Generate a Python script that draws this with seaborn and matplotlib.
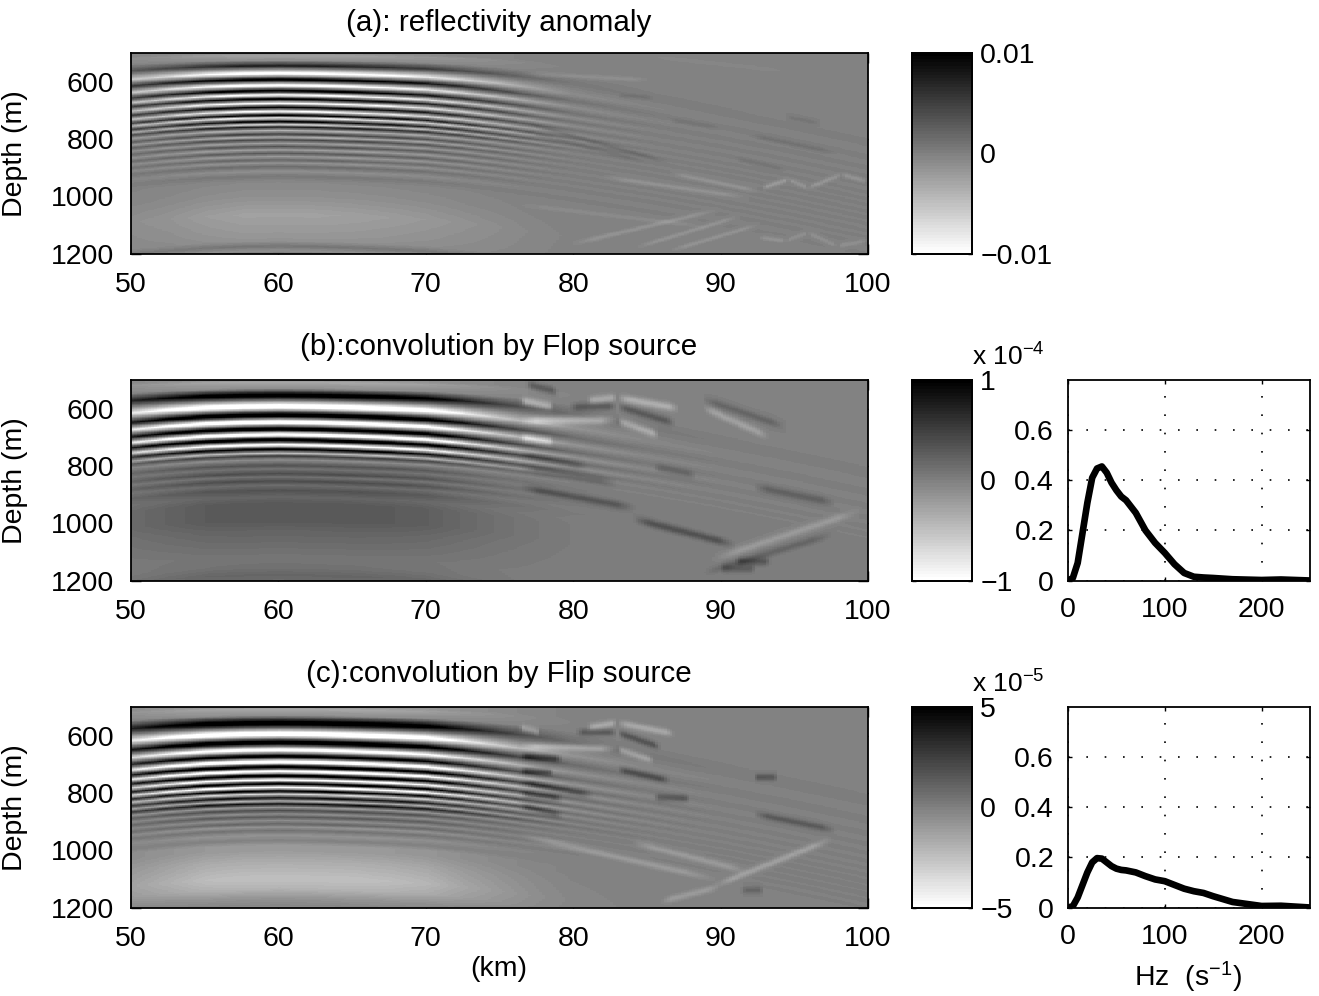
import numpy as np
import pandas as pd
import matplotlib
matplotlib.use("Agg")
import matplotlib.pyplot as plt
import seaborn as sns

W, H = 1319, 996

# trace at 60 km, in fractions of the colour limit
depth_a = [500, 507, 525, 544, 571, 592, 612, 631, 646, 660, 675, 689, 703, 717, 726, 739, 749, 758, 770, 783, 793, 803, 815, 826, 838, 850, 861, 873, 884, 896, 913, 930, 950, 1000, 1064, 1134, 1157, 1175, 1192, 1200]
value_a = [-.1, -.25, -.1, .75, -1.2, 1.2, -1.2, 1.2, -1.1, 1.1, -1.1, 1.1, -1, 1.1, -.9, 1, -.6, .8, -.4, .5, -.35, .45, -.25, .35, -.25, .3, -.2, .2, -.15, .15, -.12, .06, -.06, -.12, -.26, -.18, -.14, .08, -.12, .05]
depth_b = [500, 507, 530, 553, 592, 622, 646, 671, 690, 708, 726, 741, 755, 765, 778, 798, 810, 827, 838, 853, 867, 885, 908, 931, 955, 990, 1024, 1071, 1117, 1152, 1181, 1200]
value_b = [-.15, -.3, -.1, 1.3, -1.5, 1.5, -1.5, 1.5, -1.5, 1.5, -1.2, 1.1, -.5, .5, -.1, .35, .1, .4, .1, .4, .15, .35, .2, .3, .3, .3, .22, .15, .08, .1, .2, .15]
depth_c = [500, 507, 530, 556, 594, 623, 649, 672, 691, 709, 724, 740, 754, 768, 780, 793, 804, 817, 828, 838, 850, 861, 873, 884, 896, 908, 919, 931, 948, 966, 983, 1000, 1041, 1099, 1134, 1169, 1192, 1200]
value_c = [-.2, -.3, -.1, 1.4, -1.5, 1.5, -1.3, 1.3, -1.5, 1.5, -1.4, 1.4, -1.2, 1.3, -1.2, 1.1, -.7, .9, -.4, .9, -.2, .4, -.1, .3, -.1, .2, -.15, .1, -.15, 0, -.2, -.2, -.35, -.5, -.4, -.15, -.05, -.1]

# how far the stripes sink and fade away from 60 km
km_nodes = [50, 52.5, 55, 57.5, 60, 62.5, 65, 67.5, 70, 72.5, 75, 77.5, 80, 85, 90, 95, 100]
sink = [28, 16, 7, 2, 0, 2, 6, 11, 18, 30, 45, 62, 80, 120, 165, 215, 270]
sink_depth = [500, 560, 640, 720, 1200]
sink_weight = [.3, .6, .9, 1, 1]
gain_a = [.45, .6, .85, 1, 1, 1, .95, .85, .72, .55, .38, .2, .08, .03, .02, .01, .01]
gain_b = [.55, .75, .95, 1, 1, 1, 1, .95, .85, .6, .38, .22, .1, .04, .02, .01, .01]
gain_c = [.55, .75, .95, 1, 1, 1, 1, .95, .85, .6, .4, .22, .1, .04, .02, .01, .01]

# faint streaks on the right side: km start, depth start, km end, depth end, strength
streaks_a = [
    (76.4, 571, 85.5, 594, -.1), (85, 510, 95, 565, -.06), (76.4, 739, 86.6, 884, .14), (76.4, 770, 85, 880, .1),
    (83, 646, 85.5, 656, .08), (86.6, 733, 90, 762, .07), (92, 786, 98, 850, .1), (94.5, 722, 96.8, 745, .08),
    (91, 867, 94.5, 908, .08), (82, 931, 92, 1006, -.14), (86.6, 919, 92.7, 983, -.14),
    (92.9, 971, 94.7, 942, -.2), (94.7, 942, 96, 971, -.16), (96, 971, 98.3, 925, -.16), (98.3, 925, 100, 948, -.14),
    (79.8, 1169, 90, 1047, -.14), (84.3, 1180, 91.4, 1070, -.14), (86.6, 1192, 92.7, 1099, -.14),
    (92.7, 1145, 94.5, 1157, -.14), (94.5, 1157, 96, 1128, -.12), (96, 1128, 98, 1175, -.12), (98, 1175, 100, 1157, -.12),
    (76.4, 1030, 89.5, 1110, -.08),
]
streaks_b = [
    (76.4, 571, 78.7, 594, -.45), (76.4, 640, 83, 640, -.4), (83, 640, 85.9, 693, -.35),
    (81, 571, 83, 560, -.3), (83, 560, 87.3, 600, -.35), (88.8, 594, 93.4, 699, -.25),
    (76.8, 513, 79, 542, .3), (79.8, 594, 83, 590, .3), (83, 590, 87, 652, .3), (88.8, 565, 94.5, 664, .2),
    (76.4, 699, 78.7, 716, -.4), (76.4, 757, 81, 803, .2), (76.4, 803, 83, 860, .2), (76.4, 873, 84.3, 949, .3),
    (84, 984, 91.1, 1077, .35), (85.5, 803, 88.4, 833, .2), (92.3, 873, 97.9, 931, .25),
    (89.5, 1127, 99.7, 955, -.2), (88.8, 1176, 97.9, 1036, .2), (90, 1160, 92.5, 1160, .25), (91, 1135, 93.5, 1135, .3),
]
streaks_c = [
    (76.4, 670, 79.3, 681, .45), (76.4, 722, 78.7, 728, .4), (76.4, 762, 81.4, 809, .35), (76.4, 803, 79.3, 820, .35),
    (76.4, 844, 79.3, 879, .3), (76.4, 635, 83, 646, -.35), (83, 646, 85.5, 687, -.3), (76.4, 571, 77.8, 588, -.3),
    (81, 571, 83, 554, -.3), (83, 554, 87, 594, -.3), (80.2, 588, 83, 588, .3), (83, 588, 86, 641, .35),
    (83, 716, 86.6, 757, .35), (85.5, 815, 88, 820, .3), (92.3, 745, 94, 745, .3), (92.3, 873, 97.9, 931, .3),
    (83.9, 971, 92, 1076, -.2), (76.4, 948, 90, 1105, -.2), (89.5, 1128, 97.7, 960, -.25), (86, 1180, 90, 1128, -.2),
    (91.5, 1140, 93, 1140, .2),
]
streak_width = [8, 14, 12]

# spectra
hz = [0, 5, 10, 15, 20, 25, 30, 35, 40, 45, 50, 55, 60, 70, 80, 90, 100, 110, 120, 130, 140, 150, 170, 200, 220, 250]
spec_b = [0, .01, .07, .19, .31, .41, .447, .455, .43, .39, .36, .335, .32, .27, .2, .15, .11, .065, .03, .015, .012, .01, .005, .002, .004, 0]
spec_c = [0, .005, .04, .09, .14, .18, .197, .195, .18, .165, .155, .15, .148, .14, .125, .112, .105, .09, .075, .065, .058, .045, .022, .006, .007, 0]

km_ticks = [50, 60, 70, 80, 90, 100]
depth_ticks = [600, 800, 1000, 1200]

titles = ["(a): reflectivity anomaly", "(b):convolution by Flop source", "(c):convolution by Flip source"]
title_y = [23, 347, 674]
cbar_limit = [0.01, 1, 5]
cbar_labels = [["0.01", "0", "\u22120.01"], ["1", "0", "\u22121"], ["5", "0", "\u22125"]]
exponent = [None, "\u22124", "\u22125"]
panel_top = [53, 380, 707]
panel_height = 200.5

sns.set_theme(style="white")
plt.rcParams["font.family"] = ["Liberation Sans", "DejaVu Sans"]
plt.rcParams["mathtext.fontset"] = "custom"
plt.rcParams["mathtext.rm"] = "Liberation Sans"
plt.rcParams["mathtext.default"] = "regular"
FS = 20.5


def box(left, top, width, height):
    return [left / W, 1 - (top + height) / H, width / W, height / H]


def field(depth, value, gain, streaks, width, limit):
    km_grid = np.linspace(50, 100, 260)
    depth_grid = np.linspace(500, 1200, 340)
    shift = np.interp(km_grid, km_nodes, sink)
    g = np.interp(km_grid, km_nodes, gain)
    weight = np.interp(depth_grid, sink_depth, sink_weight)
    z = np.array([np.interp(depth_grid - s * weight, depth, value) * a for s, a in zip(shift, g)]).T
    for km0, d0, km1, d1, amp in streaks:
        t = (km_grid - km0) / (km1 - km0)
        along = np.clip(np.minimum(t, 1 - t) * 6, 0, 1)
        line = d0 + t * (d1 - d0)
        z = z + amp * along * np.exp(-((depth_grid[:, None] - line) / width) ** 2)
    return pd.DataFrame(z * limit)


def frame(ax, lw=1.3):
    for s in ax.spines.values():
        s.set_visible(True)
        s.set_color("black")
        s.set_linewidth(lw)


fig = plt.figure(figsize=(W / 100, H / 100), dpi=100)
cmap = plt.get_cmap("gray_r", 64)
traces = [(depth_a, value_a, gain_a, streaks_a), (depth_b, value_b, gain_b, streaks_b), (depth_c, value_c, gain_c, streaks_c)]

for i, (depth, value, gain, streaks) in enumerate(traces):
    top = panel_top[i]
    ax = fig.add_axes(box(131, top, 737, panel_height))
    cax = fig.add_axes(box(912, top, 60, panel_height))
    lim = cbar_limit[i]
    z = field(depth, value, gain, streaks, streak_width[i], lim)
    sns.heatmap(z, ax=ax, cbar_ax=cax, cmap=cmap, vmin=-lim, vmax=lim,
                xticklabels=False, yticklabels=False, rasterized=True,
                cbar_kws={"ticks": [lim, 0, -lim]})
    nx, ny = z.shape[1], z.shape[0]
    ax.set_xticks([(k - 50) / 50 * nx for k in km_ticks])
    ax.set_xticklabels([str(k) for k in km_ticks], fontsize=FS, color="black")
    ax.set_yticks([(d - 500) / 700 * ny for d in depth_ticks])
    ax.set_yticklabels([str(d) for d in depth_ticks], fontsize=FS, color="black", rotation=0)
    ax.tick_params(direction="in", length=7, width=1, color="black", top=True, right=True,
                   bottom=True, left=True, pad=13)
    ax.tick_params(axis="y", pad=12)
    ax.set_ylabel("Depth (m)", fontsize=FS, color="black")
    ax.yaxis.set_label_coords(-103 / 737, 0.5)
    frame(ax)

    cax.set_yticks([lim, 0, -lim])
    cax.set_yticklabels(cbar_labels[i], fontsize=FS, color="black")
    cax.tick_params(direction="in", length=3, width=1, color="black", left=True, right=True, pad=6)
    frame(cax)

    fig.text(499 / W, 1 - title_y[i] / H, titles[i], fontsize=21.3, color="black", ha="center", va="center")
    if exponent[i]:
        fig.text(972 / W, 1 - (top - 23) / H, "x 10$^{%s}$" % exponent[i], fontsize=19, color="black",
                 ha="left", va="center")

spectra = [spec_b, spec_c]
for i, spec in enumerate(spectra):
    ax = fig.add_axes(box(1068, panel_top[i + 1], 242, panel_height))
    sns.lineplot(x=hz, y=spec, ax=ax, color="black", linewidth=4.8, errorbar=None)
    ax.set_xlim(0, 250)
    ax.set_ylim(0, 0.8)
    ax.set_xticks([0, 100, 200])
    ax.set_yticks([0, 0.2, 0.4, 0.6])
    ax.set_yticklabels(["0", "0.2", "0.4", "0.6"])
    ax.tick_params(labelsize=FS, labelcolor="black", direction="in", length=3, width=1, color="black",
                   top=True, right=True, bottom=True, left=True, pad=12)
    ax.tick_params(axis="y", pad=10)
    ax.grid(True, color="black", linestyle=(0, (1, 10)), linewidth=1.2)
    frame(ax)

fig.text(499 / W, 1 - 969 / H, "(km)", fontsize=FS, color="black", ha="center", va="center")
fig.text(1188 / W, 1 - 977 / H, "Hz  (s$^{\u22121}$)", fontsize=FS, color="black", ha="center", va="center")

fig.savefig("out.png", dpi=100)
